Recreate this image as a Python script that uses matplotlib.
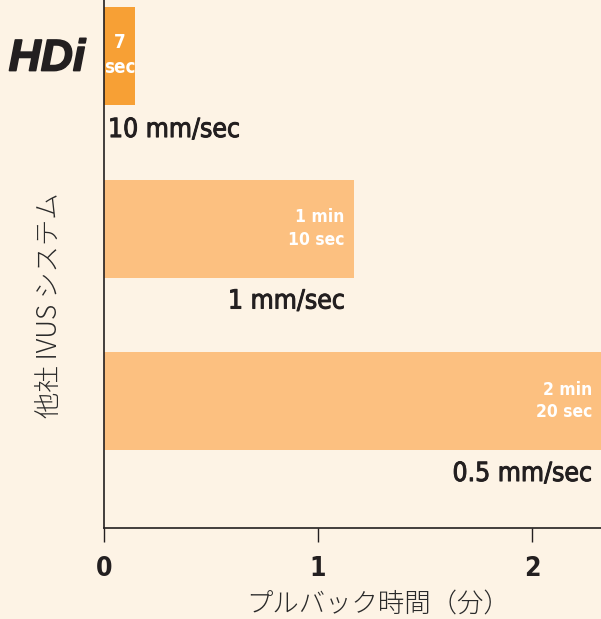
import matplotlib
matplotlib.use("Agg")
import matplotlib.pyplot as plt
import matplotlib.patheffects as pe

# データ（上から HDi, 1 mm/sec, 0.5 mm/sec）
systems = ["HDi", "other_1", "other_05"]
pullback_min = [0.145, 7 / 6, 7 / 3]   # HDi は 7 sec（見やすさのため太めに描かれている）
time_labels = ["7\nsec", "1 min\n10 sec", "2 min\n20 sec"]
speed_labels = ["10 mm/sec", "1 mm/sec", "0.5 mm/sec"]
ypos = [2, 1, 0]
bar_colors = ["#f7a035", "#fcc080", "#fcc080"]
xticks = [0, 1, 2]

bg = "#fdf3e5"
ink = "#231f20"
narrow = ["DejaVu Sans"]
jp = ["Noto Sans CJK JP", "DejaVu Sans"]
medium = [pe.withStroke(linewidth=0.7, foreground=ink)]

fig = plt.figure(figsize=(6.01, 6.19), dpi=100, facecolor=bg)
ax = fig.add_axes([104 / 601, 91 / 619, 497 / 601, 528 / 619])
ax.set_facecolor(bg)

h = 0.568
ax.barh(ypos, pullback_min, height=h, color=bar_colors, zorder=2)

xmax = 2.322
ax.set_xlim(0, xmax)
ax.set_ylim(-0.736, 2.325)

for i, (y, v) in enumerate(zip(ypos, pullback_min)):
    if i == 0:
        ax.annotate(time_labels[i], (v / 2, y), xytext=(0, 1),
                    textcoords="offset pixels", ha="center", va="center",
                    color="white", fontsize=13.5, fontweight="bold",
                    family=narrow, fontstretch="condensed", linespacing=1.35, zorder=3)
        ax.annotate(speed_labels[i], (0, y - h / 2), xytext=(4, -25),
                    textcoords="offset pixels", ha="left", va="center",
                    color=ink, fontsize=19, family=narrow, fontstretch="condensed",
                    path_effects=medium)
    else:
        ax.annotate(time_labels[i], (min(v, xmax), y), xytext=(-9, 0),
                    textcoords="offset pixels", ha="right", va="center",
                    color="white", fontsize=12.5, fontweight="bold",
                    family=narrow, fontstretch="condensed", linespacing=1.3,
                    multialignment="right", zorder=3)
        ax.annotate(speed_labels[i], (min(v, xmax), y - h / 2), xytext=(-9, -24),
                    textcoords="offset pixels", ha="right", va="center",
                    color=ink, fontsize=19, family=narrow, fontstretch="condensed",
                    path_effects=medium)

# HDi ラベル
ax.annotate("HDi", (0, ypos[0]), xytext=(-57, -3), textcoords="offset pixels",
            ha="center", va="center", fontsize=32, fontweight="bold",
            fontstyle="italic", family=["Liberation Sans", "DejaVu Sans"],
            color=ink, annotation_clip=False,
            path_effects=[pe.withStroke(linewidth=1.2, foreground=ink)])

for s in ["top", "right"]:
    ax.spines[s].set_visible(False)
for s in ["left", "bottom"]:
    ax.spines[s].set_color(ink)
    ax.spines[s].set_linewidth(1.2)

ax.set_yticks([])
ax.set_xticks(xticks)
ax.set_xticklabels([str(t) for t in xticks], family=narrow, fontstretch="condensed",
                   fontsize=19, fontweight="bold", color=ink)
ax.tick_params(axis="x", length=10, width=1, color=ink, pad=10)

ax.set_xlabel("プルバック時間（分）", family=jp, fontsize=19, fontweight="light",
              color="#2a2a2a")
ax.xaxis.set_label_coords((378 - 104) / 497, -0.117)
ax.set_ylabel("他社 IVUS システム", family=jp, fontsize=19, fontweight="light",
              color="#2a2a2a")
ax.yaxis.set_label_coords(-41 / 497, (528 - 305) / 528)

fig.savefig("out.png", dpi=100, facecolor=bg)
